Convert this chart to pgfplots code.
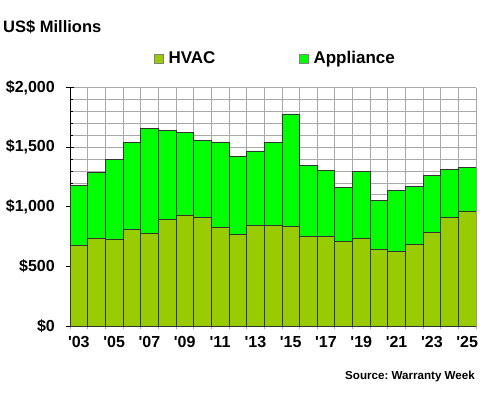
\documentclass[border=0pt]{standalone}
\usepackage{fontspec}
\setmainfont{Liberation Sans}
\usepackage{pgfplots}
\pgfplotsset{compat=1.18}
\usepackage{pgfplotstable}
\definecolor{hvac}{HTML}{99CC00}
\definecolor{appl}{HTML}{00FF00}
\definecolor{gridgray}{HTML}{A8A8A8}
\definecolor{gridblue}{HTML}{B8D2F2}
\pgfplotstableread{
x hvac appl
0 679 503
1 735 556
2 730 665
3 808 729
4 774 884
5 892 749
6 931 693
7 914 643
8 825 718
9 769 651
10 841 627
11 844 696
12 836 942
13 749 598
14 749 556
15 707 456
16 735 562
17 643 411
18 629 509
19 685 483
20 786 480
21 914 400
22 962 366
}\datatable
\begin{document}
\frenchspacing
\begin{tikzpicture}
\useasboundingbox (0,0) rectangle (480pt,400pt);
\begin{axis}[
  at={(70pt,74pt)}, anchor=south west,
  scale only axis, width=406pt, height=238.5pt,
  ybar stacked, bar width=1,
  xmin=-0.5, xmax=22.5, ymin=0, ymax=2000,
  axis lines=left, axis line style={-, black, line width=0.8pt},
  xtick={0,2,...,22},
  xticklabels={\textquotesingle03,\textquotesingle05,\textquotesingle07,\textquotesingle09,\textquotesingle11,\textquotesingle13,\textquotesingle15,\textquotesingle17,\textquotesingle19,\textquotesingle21,\textquotesingle23,\textquotesingle25},
  minor xtick={-0.5,0.5,...,22.5},
  xminorgrids, minor x grid style={gridgray, line width=0.6pt},
  major x tick style={draw=none},
  minor x tick style={gridgray, line width=0.6pt},
  xtick align=outside,
  ytick={0,500,...,2000},
  yticklabels={{\$0},{\$500},{\$1,000},{\$1,500},{\$2,000}},
  ymajorgrids,
  major y grid style={gridgray, line width=0.8pt},
  ytick align=center,
  major tick length=8pt, minor tick length=3pt,
  major y tick style={black, line width=0.8pt},
  extra y ticks={100,200,300,400,600,700,800,900,1100,1200,1300,1400,1600,1700,1800,1900},
  extra y tick labels={},
  extra y tick style={
    grid=major,
    major grid style={gridblue, line width=1.3pt},
    ytick align=inside,
    major tick length=3pt,
    major y tick style={black, line width=0.8pt}},
  tick label style={font=\fontsize{16}{18}\selectfont\bfseries, inner sep=0pt},
  y tick label style={xshift=-11pt},
  x tick label style={yshift=-2pt},
  /pgf/number format/assume math mode=true,
  legend columns=2,
  legend cell align=left,
  legend style={at={(axis description cs:0.2075,1.122)}, anchor=west, draw=none, fill=none, inner sep=0pt,
    nodes={inner sep=0pt},
    font=\fontsize{17}{19}\selectfont\bfseries,
    /tikz/every odd column/.append style={column sep=4.5pt},
    /tikz/every even column/.append style={column sep=84pt}},
  legend image code/.code={\draw[#1, draw=gray, line width=0.6pt] (0pt,-4.5pt) rectangle (9pt,4.5pt);},
]
\addplot[fill=hvac, draw=black!80, line width=0.6pt] table[x=x, y=hvac] {\datatable};
\addplot[fill=appl, draw=black!80, line width=0.6pt] table[x=x, y=appl] {\datatable};
\legend{HVAC, Appliance}
\draw[gridgray, line width=0.6pt] (axis description cs:1,0) -- (axis description cs:1,1);
\end{axis}
\node[anchor=west, inner sep=0pt, font=\fontsize{16.5}{19}\selectfont\bfseries] at (3pt,373.3pt) {US\$ Millions};
\node[anchor=east, inner sep=0pt, font=\fontsize{11.6}{14}\selectfont\bfseries] at (475pt,24pt) {Source: Warranty Week};
\end{tikzpicture}
\end{document}
